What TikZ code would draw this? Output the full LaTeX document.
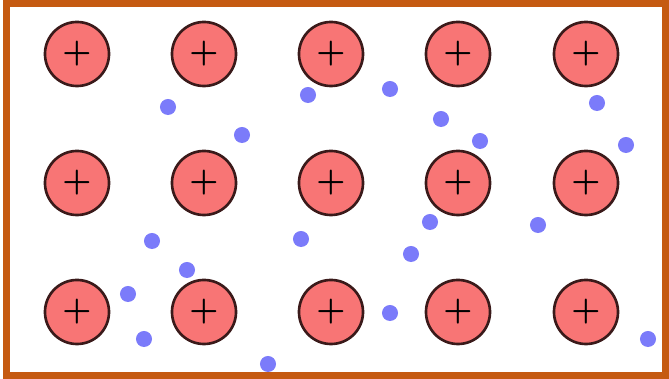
\documentclass[tikz,border=0pt]{standalone}
\usepackage{amsmath,amssymb}
\usepackage{xcolor}
\usepackage{tikz}
\usetikzlibrary{positioning}

\definecolor{framecol}{HTML}{C55A11}
\definecolor{ionfill}{HTML}{F87575}
\definecolor{ionline}{HTML}{3A1A1A}
\definecolor{elecfill}{HTML}{7B7BFA}

\begin{document}
\begin{tikzpicture}[
    x=0.01cm, y=-0.01cm,
    ion/.style={
        circle,
        draw=ionline,
        line width=0.75pt,
        fill=ionfill,
        minimum size=0.64cm,
        inner sep=0pt,
        font=\fontsize{9}{9}\selectfont
    },
    electron/.style={
        circle,
        fill=elecfill,
        minimum size=0.16cm,
        inner sep=0pt
    },
    frame/.style={draw=framecol, line width=2pt}
]

\useasboundingbox (0,0) rectangle (669,379);

% =========================================
% Frame
% =========================================
\draw[frame] (6.5,3.5) rectangle (665.5,375.5);

% =========================================
% Lattice of positive ions
% =========================================
\foreach \row/\y in {1/54, 2/183, 3/312} {
    \foreach \col/\x in {1/77, 2/204, 3/331, 4/458, 5/586} {
        \node[ion] (ion-\row-\col) at (\x,\y) {$\boldsymbol{+}$};
    }
}

% =========================================
% Free electrons
% =========================================
\node[electron] (e1)  at (168,107) {};
\node[electron] (e2)  at (242,135) {};
\node[electron] (e3)  at (308,95)  {};
\node[electron] (e4)  at (390,89)  {};
\node[electron] (e5)  at (441,119) {};
\node[electron] (e6)  at (480,141) {};
\node[electron] (e7)  at (597,103) {};
\node[electron] (e8)  at (626,145) {};
\node[electron] (e9)  at (152,241) {};
\node[electron] (e10) at (187,270) {};
\node[electron] (e11) at (301,239) {};
\node[electron] (e12) at (430,222) {};
\node[electron] (e13) at (411,254) {};
\node[electron] (e14) at (538,225) {};
\node[electron] (e15) at (128,294) {};
\node[electron] (e16) at (144,339) {};
\node[electron] (e17) at (268,364) {};
\node[electron] (e18) at (390,313) {};
\node[electron] (e19) at (648,339) {};

\end{tikzpicture}
\end{document}
